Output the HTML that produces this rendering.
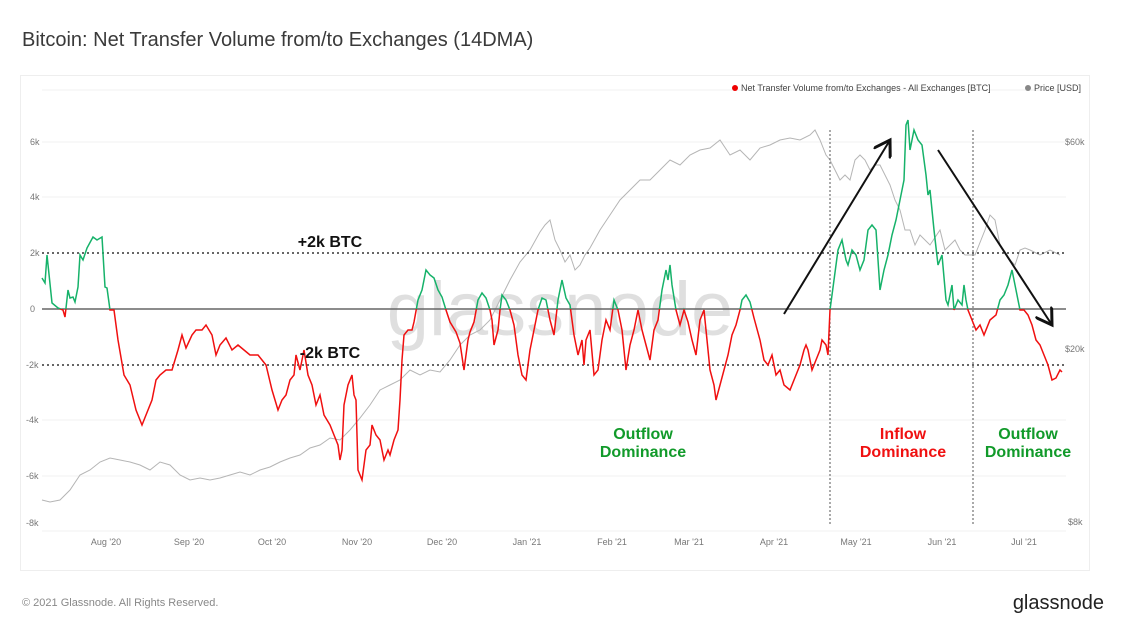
<!DOCTYPE html>
<html><head><meta charset="utf-8"><style>
body{margin:0;background:#fff;font-family:"Liberation Sans",sans-serif;}
</style></head><body>
<svg width="1121" height="629" viewBox="0 0 1121 629" xmlns="http://www.w3.org/2000/svg" font-family="Liberation Sans, sans-serif">
<rect width="1121" height="629" fill="#fff"/>
<text x="22" y="46" font-size="20" fill="#3a3a3a">Bitcoin: Net Transfer Volume from/to Exchanges (14DMA)</text>
<rect x="20.5" y="75.5" width="1069" height="495" fill="#fff" stroke="#eee"/>
<g stroke="#f1f1f1" stroke-width="1">
<line x1="42" x2="1066" y1="90" y2="90"/><line x1="42" x2="1066" y1="142" y2="142"/><line x1="42" x2="1066" y1="197" y2="197"/>
<line x1="42" x2="1066" y1="420" y2="420"/><line x1="42" x2="1066" y1="476" y2="476"/><line x1="42" x2="1066" y1="531" y2="531"/>
</g>
<g font-size="9" fill="#777">
<text x="30" y="145">6k</text><text x="30" y="200">4k</text><text x="30" y="256">2k</text><text x="30" y="312">0</text>
<text x="26" y="368">-2k</text><text x="26" y="423">-4k</text><text x="26" y="479">-6k</text><text x="26" y="526">-8k</text>
<text x="1065" y="145">$60k</text><text x="1065" y="352">$20k</text><text x="1068" y="525">$8k</text>
<text x="106" y="545" text-anchor="middle">Aug '20</text><text x="189" y="545" text-anchor="middle">Sep '20</text><text x="272" y="545" text-anchor="middle">Oct '20</text>
<text x="357" y="545" text-anchor="middle">Nov '20</text><text x="442" y="545" text-anchor="middle">Dec '20</text><text x="527" y="545" text-anchor="middle">Jan '21</text>
<text x="612" y="545" text-anchor="middle">Feb '21</text><text x="689" y="545" text-anchor="middle">Mar '21</text><text x="774" y="545" text-anchor="middle">Apr '21</text>
<text x="856" y="545" text-anchor="middle">May '21</text><text x="942" y="545" text-anchor="middle">Jun '21</text><text x="1024" y="545" text-anchor="middle">Jul '21</text>
</g>
<circle cx="735" cy="88" r="3" fill="#e00"/><text x="741" y="91" font-size="9" fill="#444">Net Transfer Volume from/to Exchanges - All Exchanges [BTC]</text>
<circle cx="1028" cy="88" r="3" fill="#888"/><text x="1034" y="91" font-size="9" fill="#444">Price [USD]</text>
<text x="560" y="335" font-size="76" fill="#000" opacity="0.12" text-anchor="middle">glassnode</text>
<polyline fill="none" stroke="#b5b5b5" stroke-width="1" points="42,500 50,502 60,500 70,490 80,475 90,470 100,462 110,458 120,460 130,462 140,465 150,470 160,462 170,465 180,475 190,480 200,478 210,480 220,478 230,475 240,472 250,475 260,470 270,467 280,462 290,458 300,455 310,448 320,445 330,438 340,440 350,430 360,418 370,405 380,390 390,385 400,380 410,370 420,375 430,370 440,372 450,360 460,345 470,335 480,330 490,320 500,300 510,280 520,262 530,250 540,232 545,225 550,220 555,240 560,250 565,262 570,255 575,270 580,265 585,255 590,248 600,230 610,215 620,200 630,190 640,180 650,180 660,170 670,160 680,165 690,155 700,150 710,148 720,140 730,155 740,150 750,160 760,148 770,145 780,140 790,138 800,140 810,135 815,130 820,140 826,155 830,160 835,170 840,180 845,175 850,180 855,160 860,155 865,160 870,170 875,165 880,165 890,185 895,200 900,210 905,230 910,230 915,245 920,235 925,240 930,245 940,230 945,250 950,245 955,240 960,250 965,255 975,255 985,230 990,215 995,220 1000,245 1010,260 1015,265 1020,250 1025,248 1030,250 1040,255 1050,250 1060,255"/>
<line x1="42" x2="1066" y1="309" y2="309" stroke="#666" stroke-width="1.5"/>
<g stroke="#333" stroke-width="1.5" stroke-dasharray="2,3">
<line x1="42" x2="1066" y1="253" y2="253"/><line x1="42" x2="1066" y1="365" y2="365"/>
</g>
<g stroke="#555" stroke-width="1" stroke-dasharray="2,2">
<line x1="830" x2="830" y1="130" y2="525"/><line x1="973" x2="973" y1="130" y2="525"/>
</g>
<defs>
<clipPath id="up"><rect x="0" y="0" width="1121" height="309"/></clipPath>
<clipPath id="dn"><rect x="0" y="309" width="1121" height="320"/></clipPath>
<polyline id="nf" fill="none" stroke-width="1.5" points="42,278 45,283 47,255 52,303 58,308 63,310 65,317 68,290 70,298 73,297 75,302 78,287 80,255 83,260 87,248 93,237 97,240 102,237 105,287 107,288 110,310 114,310 118,340 124,375 130,385 136,410 142,425 148,410 152,400 156,380 160,375 166,370 172,370 178,350 182,335 186,348 192,335 196,330 202,330 206,325 212,335 216,355 220,345 226,338 232,350 238,345 244,350 250,355 258,355 266,365 272,390 278,410 282,400 286,395 290,380 294,375 296,355 300,370 304,350 308,375 312,385 316,405 320,395 324,415 330,425 334,435 338,445 340,460 342,450 344,405 348,385 352,375 354,395 356,400 358,470 362,480 366,450 370,445 372,425 376,435 380,440 384,460 388,450 390,455 394,440 398,430 400,400 402,360 404,335 408,330 412,330 414,322 418,300 422,290 426,270 430,275 434,278 438,290 442,297 446,310 450,322 456,332 460,343 464,370 468,340 470,332 474,322 478,300 482,293 486,298 490,310 492,320 494,345 498,330 500,310 502,295 506,300 510,310 514,325 518,355 522,375 526,380 530,350 534,330 538,310 542,298 546,300 550,320 554,335 558,300 562,280 566,298 570,305 574,335 578,355 582,340 584,365 586,340 590,330 594,375 598,370 602,340 606,320 610,330 614,300 618,310 622,330 626,370 630,345 634,330 638,310 642,330 646,345 650,360 654,330 658,320 662,290 666,270 668,280 670,265 672,285 676,310 680,325 684,310 688,322 692,340 696,355 700,320 704,310 706,330 710,370 714,385 716,400 720,385 724,370 728,355 732,335 736,325 740,310 742,300 746,295 750,302 754,318 760,340 764,360 768,365 772,355 776,375 780,370 784,385 790,390 794,380 798,370 800,365 804,350 806,345 808,350 812,370 816,360 820,350 822,340 826,345 828,355 830,310 834,280 838,250 842,240 846,260 848,265 852,250 856,255 860,270 864,260 868,230 872,225 876,230 880,290 884,270 888,255 892,235 896,220 900,200 904,180 906,125 908,120 910,150 914,130 918,140 922,145 926,175 928,195 930,190 934,230 938,265 942,255 946,300 948,305 952,285 954,310 958,300 962,305 964,285 966,300 968,310 972,320 976,330 980,325 984,335 990,320 996,315 1000,300 1004,295 1008,285 1012,270 1016,290 1020,310 1024,310 1028,315 1032,325 1036,340 1040,345 1044,355 1048,365 1052,380 1056,378 1060,370 1062,372"/>
<marker id="ar" markerWidth="10" markerHeight="10" refX="8" refY="5" orient="auto"><path d="M0,0 L8,5 L0,10" fill="none" stroke="#111" stroke-width="1.5"/></marker>
</defs>
<use href="#nf" stroke="#16b26a" clip-path="url(#up)"/>
<use href="#nf" stroke="#f01010" clip-path="url(#dn)"/>
<line x1="784" y1="314" x2="890" y2="140" stroke="#111" stroke-width="2" marker-end="url(#ar)"/>
<line x1="938" y1="150" x2="1052" y2="325" stroke="#111" stroke-width="2" marker-end="url(#ar)"/>
<g font-size="16" font-weight="bold">
<text x="330" y="247" text-anchor="middle" fill="#111">+2k BTC</text>
<text x="330" y="358" text-anchor="middle" fill="#111">-2k BTC</text>
<text x="643" y="439" text-anchor="middle" fill="#119a2a">Outflow</text><text x="643" y="457" text-anchor="middle" fill="#119a2a">Dominance</text>
<text x="903" y="439" text-anchor="middle" fill="#f01010">Inflow</text><text x="903" y="457" text-anchor="middle" fill="#f01010">Dominance</text>
<text x="1028" y="439" text-anchor="middle" fill="#119a2a">Outflow</text><text x="1028" y="457" text-anchor="middle" fill="#119a2a">Dominance</text>
</g>
<text x="22" y="606" font-size="11" fill="#888">© 2021 Glassnode. All Rights Reserved.</text>
<text x="1104" y="609" font-size="20" fill="#222" text-anchor="end">glassnode</text>
</svg>
</body></html>
